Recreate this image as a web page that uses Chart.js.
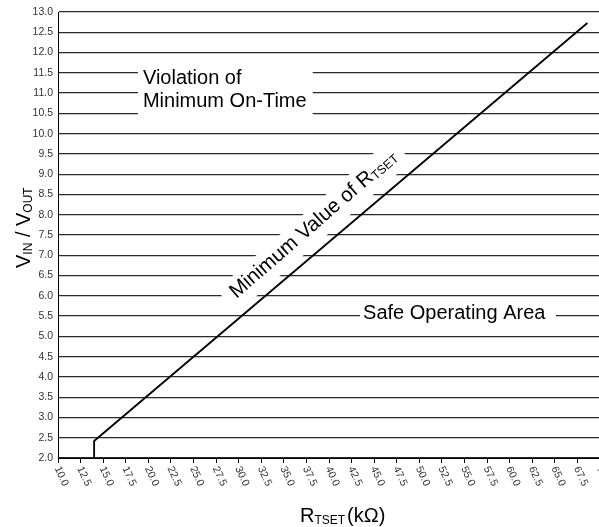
<!DOCTYPE html>
<html>
<head>
<meta charset="utf-8">
<script src="https://cdn.jsdelivr.net/npm/chart.js@4"></script>
<style>
  html, body { margin: 0; padding: 0; background: #fff; overflow: hidden; }
  canvas { display: block; }
</style>
</head>
<body>
<canvas id="grafico" width="602" height="527"></canvas>
<script>
// curve: minimum RTSET vs VIN/VOUT
const rTset = [14.0, 14.0, 68.6];
const vRatio = [2.0, 2.42, 12.73];
const xTickLabels = ['10.0', '12.5', '15.0', '17.5', '20.0', '22.5', '25.0', '27.5', '30.0', '32.5',
    '35.0', '37.5', '40.0', '42.5', '45.0', '47.5', '50.0', '52.5', '55.0', '57.5', '60.0', '62.5',
    '65.0', '67.5', '70.0'];
const yTickLabels = ['2.0', '2.5', '3.0', '3.5', '4.0', '4.5', '5.0', '5.5', '6.0', '6.5', '7.0', '7.5',
    '8.0', '8.5', '9.0', '9.5', '10.0', '10.5', '11.0', '11.5', '12.0', '12.5', '13.0'];

const FONT = 'Arial, "Liberation Sans", sans-serif';

// escreve texto com subscrito, retorna largura total
function textoSub(ctx, partes, x, y, size) {
    let cx = x;
    partes.forEach(p => {
        const s = p.sub ? size * 0.6 : size;
        ctx.font = `${s}px ${FONT}`;
        ctx.fillText(p.t, cx, y + (p.sub ? size * 0.08 : 0));
        cx += ctx.measureText(p.t).width;
    });
    return cx - x;
}

function larguraSub(ctx, partes, size) {
    let w = 0;
    partes.forEach(p => {
        ctx.font = `${p.sub ? size * 0.6 : size}px ${FONT}`;
        w += ctx.measureText(p.t).width;
    });
    return w;
}

const anotacoes = {
    id: 'anotacoes',
    beforeDatasetsDraw(chart) {
        const { ctx } = chart;
        const xs = chart.scales.x, ys = chart.scales.y;
        ctx.save();
        ctx.textBaseline = 'alphabetic';
        ctx.textAlign = 'left';

        // Violation of Minimum On-Time
        ctx.fillStyle = '#fff';
        const vx0 = xs.getPixelForValue(18.85), vx1 = xs.getPixelForValue(38.2);
        const vy0 = ys.getPixelForValue(11.82), vy1 = ys.getPixelForValue(10.21);
        ctx.fillRect(vx0, vy0, vx1 - vx0, vy1 - vy0);
        ctx.fillStyle = '#000';
        ctx.font = `20px ${FONT}`;
        ctx.fillText('Violation of', xs.getPixelForValue(19.4), ys.getPixelForValue(11.22));
        ctx.fillText('Minimum On-Time', xs.getPixelForValue(19.4), ys.getPixelForValue(10.65));

        // Safe Operating Area
        ctx.fillStyle = '#fff';
        const sx0 = xs.getPixelForValue(43.43), sx1 = xs.getPixelForValue(65.13);
        const sy = ys.getPixelForValue(5.5);
        ctx.fillRect(sx0, sy - 8, sx1 - sx0, 16);
        ctx.fillStyle = '#000';
        ctx.font = `20px ${FONT}`;
        ctx.fillText('Safe Operating Area', xs.getPixelForValue(43.77), ys.getPixelForValue(5.44));

        // Minimum Value of RTSET (rotacionado)
        const partes = [{ t: 'Minimum Value of R' }, { t: 'TSET', sub: true }];
        const w = larguraSub(ctx, partes, 20.5);
        ctx.save();
        ctx.translate(xs.getPixelForValue(29.75), ys.getPixelForValue(5.92));
        ctx.rotate(-41 * Math.PI / 180);
        ctx.fillStyle = '#fff';
        ctx.fillRect(-9, -20, w + 17, 31);
        ctx.fillStyle = '#000';
        textoSub(ctx, partes, 0, 0, 20.5);
        ctx.restore();

        ctx.restore();
    },
    afterDraw(chart) {
        const { ctx } = chart;
        const xs = chart.scales.x, ys = chart.scales.y;
        ctx.save();

        // rótulos do eixo x girados
        ctx.fillStyle = '#333';
        ctx.font = `10.5px ${FONT}`;
        ctx.textAlign = 'left';
        ctx.textBaseline = 'middle';
        xTickLabels.forEach(lbl => {
            const px = xs.getPixelForValue(parseFloat(lbl));
            ctx.save();
            ctx.translate(px - 1, ys.bottom + 9);
            ctx.rotate(65 * Math.PI / 180);
            ctx.fillText(lbl, 0, 0);
            ctx.restore();
        });

        // título eixo x
        ctx.fillStyle = '#000';
        ctx.textBaseline = 'alphabetic';
        const wx = textoSub(ctx, [{ t: 'R' }, { t: 'TSET', sub: true }], 300, 522, 20);
        ctx.font = `20px ${FONT}`;
        ctx.fillText('(kΩ)', 300 + wx + 2, 522);

        // título eixo y
        ctx.save();
        ctx.translate(30, 268);
        ctx.rotate(-Math.PI / 2);
        textoSub(ctx, [{ t: 'V' }, { t: 'IN', sub: true }, { t: ' / V' }, { t: 'OUT', sub: true }], 0, 0, 20);
        ctx.restore();

        ctx.restore();
    }
};

const ctx = document.getElementById('grafico').getContext('2d');
new Chart(ctx, {
    type: 'line',
    data: {
        datasets: [{
            data: rTset.map((r, i) => ({ x: r, y: vRatio[i] })),
            borderColor: '#000',
            borderWidth: 1.8,
            pointRadius: 0,
            fill: false,
            tension: 0
        }]
    },
    options: {
        responsive: false,
        animation: false,
        devicePixelRatio: 1,
        layout: { padding: { top: 12, right: 2, left: 0, bottom: 0 } },
        plugins: { legend: { display: false }, tooltip: { enabled: false } },
        scales: {
            x: {
                type: 'linear',
                min: 10,
                max: 70,
                afterFit: s => { s.height = 69; s.paddingLeft = 0; s.paddingRight = 0; },
                afterBuildTicks: s => { s.ticks = xTickLabels.map(l => ({ value: parseFloat(l) })); },
                ticks: { display: false },
                grid: { drawOnChartArea: false, drawTicks: true, tickLength: 5, color: '#000' },
                border: { color: '#000', width: 1 }
            },
            y: {
                min: 2,
                max: 13,
                afterFit: s => { s.width = 58; s.paddingTop = 0; s.paddingBottom = 0; },
                afterBuildTicks: s => { s.ticks = yTickLabels.map(l => ({ value: parseFloat(l) })); },
                ticks: {
                    color: '#333',
                    padding: 5,
                    font: { family: FONT, size: 10.5 },
                    callback: (v, i) => yTickLabels[i]
                },
                grid: { drawTicks: false, color: '#2a2a2a', lineWidth: 1.2 },
                border: { color: '#000', width: 1 }
            }
        }
    },
    plugins: [anotacoes]
});
</script>
</body>
</html>
